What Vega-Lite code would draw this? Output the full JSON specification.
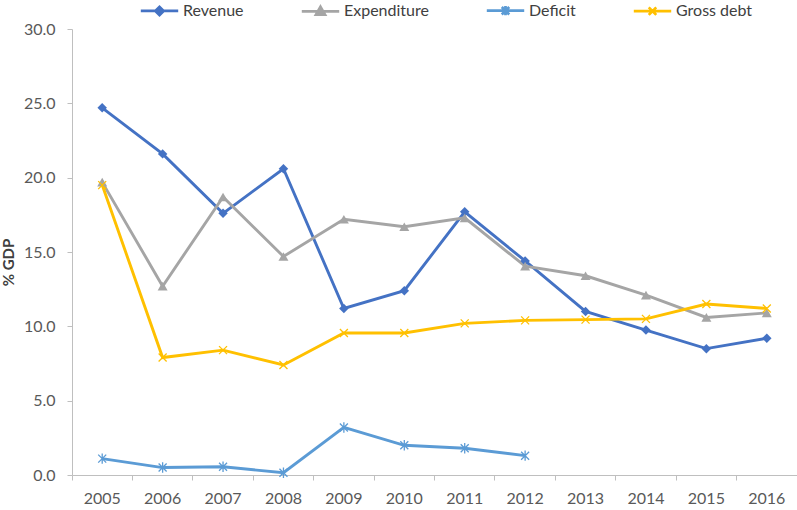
{
  "$schema": "https://vega.github.io/schema/vega-lite/v6.json",
  "width": 725,
  "height": 446,
  "autosize": {"type": "none"},
  "padding": {"left": 72, "top": 29, "right": 0, "bottom": 35},
  "config": {"font": "Lato", "view": {"stroke": null}},
  "data": {
    "values": [
      {"year": "2005", "series": "Revenue", "value": 24.7},
      {"year": "2006", "series": "Revenue", "value": 21.6},
      {"year": "2007", "series": "Revenue", "value": 17.6},
      {"year": "2008", "series": "Revenue", "value": 20.6},
      {"year": "2009", "series": "Revenue", "value": 11.2},
      {"year": "2010", "series": "Revenue", "value": 12.4},
      {"year": "2011", "series": "Revenue", "value": 17.7},
      {"year": "2012", "series": "Revenue", "value": 14.4},
      {"year": "2013", "series": "Revenue", "value": 11.0},
      {"year": "2014", "series": "Revenue", "value": 9.75},
      {"year": "2015", "series": "Revenue", "value": 8.5},
      {"year": "2016", "series": "Revenue", "value": 9.2},
      {"year": "2005", "series": "Expenditure", "value": 19.7},
      {"year": "2006", "series": "Expenditure", "value": 12.7},
      {"year": "2007", "series": "Expenditure", "value": 18.7},
      {"year": "2008", "series": "Expenditure", "value": 14.7},
      {"year": "2009", "series": "Expenditure", "value": 17.2},
      {"year": "2010", "series": "Expenditure", "value": 16.7},
      {"year": "2011", "series": "Expenditure", "value": 17.3},
      {"year": "2012", "series": "Expenditure", "value": 14.05},
      {"year": "2013", "series": "Expenditure", "value": 13.4},
      {"year": "2014", "series": "Expenditure", "value": 12.1},
      {"year": "2015", "series": "Expenditure", "value": 10.6},
      {"year": "2016", "series": "Expenditure", "value": 10.9},
      {"year": "2005", "series": "Deficit", "value": 1.1},
      {"year": "2006", "series": "Deficit", "value": 0.5},
      {"year": "2007", "series": "Deficit", "value": 0.55},
      {"year": "2008", "series": "Deficit", "value": 0.15},
      {"year": "2009", "series": "Deficit", "value": 3.2},
      {"year": "2010", "series": "Deficit", "value": 2.0},
      {"year": "2011", "series": "Deficit", "value": 1.8},
      {"year": "2012", "series": "Deficit", "value": 1.3},
      {"year": "2005", "series": "Gross debt", "value": 19.5},
      {"year": "2006", "series": "Gross debt", "value": 7.9},
      {"year": "2007", "series": "Gross debt", "value": 8.4},
      {"year": "2008", "series": "Gross debt", "value": 7.4},
      {"year": "2009", "series": "Gross debt", "value": 9.55},
      {"year": "2010", "series": "Gross debt", "value": 9.55},
      {"year": "2011", "series": "Gross debt", "value": 10.2},
      {"year": "2012", "series": "Gross debt", "value": 10.4},
      {"year": "2013", "series": "Gross debt", "value": 10.45},
      {"year": "2014", "series": "Gross debt", "value": 10.5},
      {"year": "2015", "series": "Gross debt", "value": 11.5},
      {"year": "2016", "series": "Gross debt", "value": 11.2}
    ]
  },
  "encoding": {
    "x": {
      "field": "year",
      "type": "ordinal",
      "scale": {"type": "band", "paddingInner": 0, "paddingOuter": 0},
      "axis": {
        "title": null,
        "labelAngle": 0,
        "labelFontSize": 16,
        "labelColor": "#595959",
        "domainColor": "#BFBFBF",
        "tickColor": "#BFBFBF",
        "tickSize": 5,
        "labelPadding": 10,
        "bandPosition": 0,
        "grid": false
      }
    },
    "y": {
      "field": "value",
      "type": "quantitative",
      "scale": {"domain": [0, 30], "nice": false},
      "axis": {
        "title": "% GDP",
        "titleFontWeight": "bold",
        "titleFontSize": 15,
        "titleColor": "#404040",
        "titlePadding": 7,
        "titleY": 233,
        "values": [0, 5, 10, 15, 20, 25, 30],
        "format": ".1f",
        "labelFontSize": 16,
        "labelColor": "#595959",
        "domainColor": "#BFBFBF",
        "tickColor": "#BFBFBF",
        "tickSize": 5,
        "labelPadding": 12,
        "grid": false
      }
    },
    "color": {
      "field": "series",
      "type": "nominal",
      "scale": {
        "domain": ["Revenue", "Expenditure", "Deficit", "Gross debt"],
        "range": ["#4472C4", "#A5A5A5", "#5B9BD5", "#FFC000"]
      },
      "legend": {
        "title": null,
        "orient": "none",
        "direction": "horizontal",
        "columns": 4,
        "legendX": 67,
        "legendY": -39,
        "columnPadding": 52,
        "labelFontSize": 16,
        "labelColor": "#404040",
        "labelOffset": 3,
        "symbolSize": 1400,
        "symbolStrokeWidth": 2.75,
        "encode": {
          "symbols": {
            "update": {
              "shape": {"signal": "datum.value === 'Revenue' ? 'M-1,0L1,0M-0.22,0L0,-0.22L0.22,0L0,0.22Z' : datum.value === 'Expenditure' ? 'M-1,0L1,0M0,-0.24L0.24,0.18L-0.24,0.18Z' : datum.value === 'Deficit' ? 'M-1,0L1,0M-0.2,-0.2L0.2,0.2M-0.2,0.2L0.2,-0.2M0,-0.25L0,0.25' : 'M-1,0L1,0M-0.2,-0.2L0.2,0.2M-0.2,0.2L0.2,-0.2'"},
              "fill": {"scale": "color", "field": "value"},
              "stroke": {"scale": "color", "field": "value"},
              "strokeWidth": {"value": 2.75}
            }
          }
        }
      }
    }
  },
  "layer": [
    {"mark": {"type": "line", "strokeWidth": 2.9}},
    {
      "transform": [{"filter": "datum.series === 'Revenue'"}],
      "mark": {"type": "point", "shape": "diamond", "filled": true, "opacity": 1, "size": 90}
    },
    {
      "transform": [{"filter": "datum.series === 'Expenditure'"}],
      "mark": {"type": "point", "shape": "triangle-up", "filled": true, "opacity": 1, "size": 100}
    },
    {
      "transform": [{"filter": "datum.series === 'Deficit'"}],
      "mark": {"type": "point", "shape": "M-1,-1L1,1M-1,1L1,-1M0,-1.3L0,1.3", "filled": false, "opacity": 1, "size": 64, "strokeWidth": 1.3}
    },
    {
      "transform": [{"filter": "datum.series === 'Gross debt'"}],
      "mark": {"type": "point", "shape": "M-1,-1L1,1M-1,1L1,-1", "filled": false, "opacity": 1, "size": 64, "strokeWidth": 1.3}
    }
  ]
}
